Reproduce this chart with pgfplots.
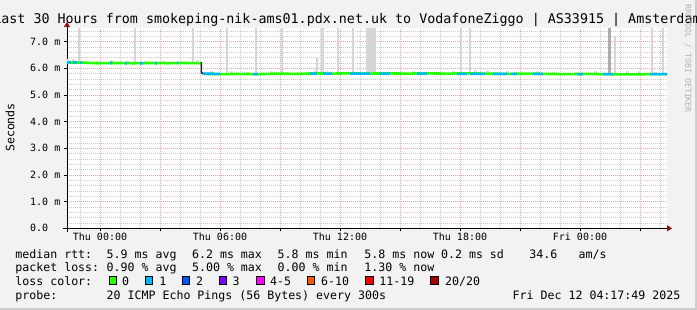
\documentclass[border=0pt]{standalone}
\usepackage{pgfplots}
\pgfplotsset{compat=1.18}
\usepackage{fontspec}
\setmainfont{DejaVu Sans Mono}
\usetikzlibrary{arrows.meta}
\definecolor{bgc}{HTML}{F2F2F2}
\definecolor{mgrid}{HTML}{F4A4A4}
\definecolor{ngrid}{HTML}{CACACA}
\definecolor{smoke}{HTML}{D6D6D6}
\definecolor{smokelt}{HTML}{E0E0E0}
\definecolor{smokedk}{HTML}{ADADAD}
\definecolor{lc0}{HTML}{26FF00}
\definecolor{lc1}{HTML}{00B8FF}
\definecolor{lc2}{HTML}{0059FF}
\definecolor{lc3}{HTML}{7E00FF}
\definecolor{lc4}{HTML}{FF00FF}
\definecolor{lc6}{HTML}{FF5500}
\definecolor{lc11}{HTML}{FF0000}
\definecolor{lc20}{HTML}{A00000}
\definecolor{arrowc}{HTML}{8B1010}
\newcommand{\tickfont}{\fontsize{10}{12}\selectfont}
\newcommand{\lgfont}{\fontsize{11.6}{14}\selectfont}
\newcommand{\lt}[3]{\node[anchor=base west, inner sep=0pt, font=\lgfont] at (#1,#2) {#3};}
\newcommand{\lbox}[2]{\filldraw[fill=#2, draw=black, line width=0.9pt] (#1,25.6) rectangle ++(7.6,7.6);}
\begin{document}
\begin{tikzpicture}[x=1pt,y=1pt]
\path[use as bounding box] (0,0) rectangle (697,310);
\clip (0,0) rectangle (697,310);
\fill[bgc] (0,0) rectangle (697,310);
\fill[gray!40] (0,0) rectangle (697,2);
\fill[gray!40] (695,0) rectangle (697,310);
\begin{axis}[
  at={(67pt,81.7pt)}, anchor=south west,
  scale only axis, width=600pt, height=200pt,
  xmin=0, xmax=30, ymin=0, ymax=7.5,
  axis x line=bottom, axis y line=left,
  axis background/.style={fill=white},
  xtick={1.65,7.65,13.65,19.65,25.65},
  xticklabels={Thu 00:00,Thu 06:00,Thu 12:00,Thu 18:00,Fri 00:00},
  extra x ticks={4.65,10.65,16.65,22.65,28.65},
  extra x tick labels={},
  extra x tick style={grid=major},
  minor xtick={0.65,2.65,3.65,5.65,6.65,8.65,9.65,11.65,12.65,14.65,15.65,17.65,18.65,20.65,21.65,23.65,24.65,26.65,27.65,29.65},
  ytick={0,1,2,3,4,5,6,7},
  yticklabels={0.0\hphantom{xm},1.0 m,2.0 m,3.0 m,4.0 m,5.0 m,6.0 m,7.0 m},
  minor ytick={0.2,0.4,0.6,0.8,1.2,1.4,1.6,1.8,2.2,2.4,2.6,2.8,3.2,3.4,3.6,3.8,4.2,4.4,4.6,4.8,5.2,5.4,5.6,5.8,6.2,6.4,6.6,6.8,7.2,7.4},
  grid=both,
  major grid style={mgrid, dash pattern=on 1pt off 1pt, line width=0.8pt},
  minor grid style={ngrid, dash pattern=on 1pt off 1pt, line width=0.8pt},
  tick align=outside, major tick length=3pt, minor tick length=0pt,
  tick style={black, line width=0.8pt},
  xticklabel style={font=\tickfont, anchor=base, inner sep=0pt, yshift=-9.4pt},
  yticklabel style={font=\tickfont, anchor=east, inner sep=0pt, xshift=-3.5pt},
  axis line style={black, line width=0.9pt},
  x axis line style={shorten <=-4.3pt, shorten >=-5pt, -{Triangle[length=5pt,width=6pt,color=arrowc]}},
  y axis line style={shorten <=-4pt, shorten >=-6.3pt, -{Triangle[length=5pt,width=6pt,color=arrowc]}},
  unbounded coords=jump,
]
% small smoke near the median
\addplot[smokelt, line width=3pt, no marks, forget plot] coordinates {
(0.1,6.15) (0.1,6.33) (0.15,nan)
(0.35,6.15) (0.35,6.36) (0.4,nan)
(1.5,6.15) (1.5,6.27) (1.55,nan)
(2.2,6.15) (2.2,6.30) (2.25,nan)
(3.0,6.15) (3.0,6.27) (3.05,nan)
(3.9,6.15) (3.9,6.28) (3.95,nan)
(4.8,6.15) (4.8,6.27) (4.85,nan)
(5.7,6.15) (5.7,6.26) (5.75,nan)
(6.5,6.15) (6.5,6.30) (6.55,nan)
(7.2,5.75) (7.2,5.90) (7.25,nan)
(8.2,5.75) (8.2,5.88) (8.25,nan)
(9.0,5.75) (9.0,5.86) (9.05,nan)
(10.2,5.75) (10.2,5.88) (10.25,nan)
(11.5,5.75) (11.5,5.86) (11.55,nan)
(12.4,5.75) (12.4,5.95) (12.45,nan)
(13.0,5.75) (13.0,5.90) (13.05,nan)
(14.8,5.75) (14.8,5.87) (14.85,nan)
(16.2,5.75) (16.2,5.86) (16.25,nan)
(17.3,5.75) (17.3,5.90) (17.35,nan)
(18.0,5.75) (18.0,5.86) (18.05,nan)
(19.3,5.75) (19.3,5.88) (19.35,nan)
(20.4,5.75) (20.4,5.95) (20.45,nan)
(21.0,5.75) (21.0,5.92) (21.05,nan)
(22.0,5.75) (22.0,5.88) (22.05,nan)
(23.5,5.75) (23.5,5.90) (23.55,nan)
(24.3,5.75) (24.3,5.87) (24.35,nan)
(25.4,5.75) (25.4,5.87) (25.45,nan)
(26.4,5.75) (26.4,5.90) (26.45,nan)
(28.0,5.75) (28.0,5.88) (28.05,nan)
(28.6,5.75) (28.6,5.90) (28.65,nan)
(29.4,5.75) (29.4,5.87) (29.45,nan)
};
% smoke spikes
\addplot[smoke, line width=2.2pt, no marks, forget plot] coordinates {
(0.6,6.2) (0.6,8) (0.65,nan)
(3.4,6.2) (3.4,8) (3.45,nan)
(6.28,6.2) (6.28,8) (6.3,nan)
(7.98,5.8) (7.98,8) (8.0,nan)
(9.43,5.8) (9.43,8) (9.45,nan)
(10.73,5.8) (10.73,8) (10.75,nan)
(12.5,5.8) (12.5,6.4) (12.55,nan)
(12.77,5.8) (12.77,8) (12.8,nan)
(13.53,5.8) (13.53,8) (13.55,nan)
(14.3,5.8) (14.3,8) (14.35,nan)
(19.7,5.8) (19.7,8) (19.75,nan)
(20.15,5.8) (20.15,8) (20.2,nan)
(27.4,5.8) (27.4,7.2) (27.45,nan)
(29.23,5.8) (29.23,8) (29.25,nan)
(29.8,5.8) (29.8,8) (29.85,nan)
};
\addplot[smoke, line width=10pt, no marks, forget plot] coordinates {(15.2,5.8) (15.2,8)};
\addplot[smokedk, line width=3pt, no marks, forget plot] coordinates {(27.1,5.8) (27.1,8)};
% median rtt, loss 0
\addplot[lc0, line width=2.6pt, no marks, forget plot] coordinates {
(0,6.22) (0.9,6.21) (1.5,6.19) (2.5,6.20) (3.3,6.19) (4.2,6.20) (5.0,6.19) (5.8,6.20) (6.72,6.19) (6.73,nan)
(6.8,5.79) (7.8,5.78) (8.6,5.79) (9.5,5.78) (10.5,5.80) (11.5,5.79) (12.3,5.81) (13.2,5.80) (14.0,5.81)
(15.0,5.80) (16.0,5.81) (17.0,5.80) (18.0,5.81) (19.0,5.80) (20.0,5.81) (21.0,5.80) (22.0,5.79)
(23.0,5.80) (24.0,5.79) (25.0,5.78) (26.0,5.79) (27.0,5.78) (28.0,5.77) (29.0,5.78) (30.0,5.78)
};
% step
\addplot[black!85, line width=1.6pt, no marks, forget plot] coordinates {(6.72,6.23) (6.72,5.84) (6.8,5.80)};
% median rtt, loss 1
\addplot[lc1, line width=2.6pt, no marks, forget plot] coordinates {
(0,6.22) (0.2,6.22) (0.21,nan)
(0.3,6.22) (0.5,6.22) (0.51,nan)
(0.65,6.21) (0.75,6.21) (0.76,nan)
(2.15,6.20) (2.25,6.20) (2.26,nan)
(2.9,6.19) (3.0,6.19) (3.01,nan)
(3.65,6.19) (3.8,6.19) (3.81,nan)
(4.4,6.19) (4.5,6.19) (4.51,nan)
(5.5,6.20) (5.55,6.20) (5.56,nan)
(6.8,5.80) (7.65,5.79) (7.66,nan)
(9.3,5.78) (9.55,5.78) (9.56,nan)
(12.15,5.80) (12.5,5.80) (12.51,nan)
(12.8,5.80) (13.25,5.80) (13.26,nan)
(14.15,5.80) (15.15,5.80) (15.16,nan)
(15.65,5.80) (16.15,5.80) (16.16,nan)
(17.5,5.80) (18.0,5.80) (18.01,nan)
(19.5,5.79) (20.0,5.79) (20.01,nan)
(20.15,5.79) (20.9,5.79) (20.91,nan)
(21.3,5.79) (22.0,5.79) (22.01,nan)
(22.2,5.79) (22.5,5.79) (22.51,nan)
(23.3,5.79) (23.8,5.79) (23.81,nan)
(25.5,5.78) (25.8,5.78) (25.81,nan)
(26.8,5.78) (27.3,5.78) (27.31,nan)
(29.15,5.78) (30.0,5.78)
};
\end{axis}
% title
\node[anchor=base, inner sep=0pt, font=\fontsize{13.35}{16}\selectfont] at (347,286) {Last 30 Hours from smokeping-nik-ams01.pdx.net.uk to VodafoneZiggo | AS33915 | Amsterdam};
% y label
\node[rotate=90, inner sep=0pt, font=\lgfont] at (10,182.5) {Seconds};
% watermark
\node[rotate=-90, anchor=west, inner sep=0pt, text=gray!60, font=\fontsize{8.2}{10}\selectfont] at (688,306) {RRDTOOL / TOBI OETIKER};
% legend
\lt{15.2}{51.7}{median rtt:}
\lt{106.5}{51.7}{5.9 ms avg}
\lt{191.9}{51.7}{6.2 ms max}
\lt{277.5}{51.7}{5.8 ms min}
\lt{364.2}{51.7}{5.8 ms now}
\lt{440.9}{51.7}{0.2 ms sd}
\lt{529.2}{51.7}{34.6}
\lt{578.5}{51.7}{am/s}
\lt{15.2}{38.2}{packet loss:}
\lt{106.5}{38.2}{0.90 \% avg}
\lt{191.9}{38.2}{5.00 \% max}
\lt{277.5}{38.2}{0.00 \% min}
\lt{364.2}{38.2}{1.30 \% now}
\lt{15.2}{24.7}{loss color:}
\lbox{109.3}{lc0}\lt{121.9}{24.7}{0}
\lbox{145.2}{lc1}\lt{159.2}{24.7}{1}
\lbox{182.3}{lc2}\lt{195.9}{24.7}{2}
\lbox{219.0}{lc3}\lt{232.5}{24.7}{3}
\lbox{256.7}{lc4}\lt{269.9}{24.7}{4-5}
\lbox{307.3}{lc6}\lt{320.9}{24.7}{6-10}
\lbox{365.5}{lc11}\lt{379.2}{24.7}{11-19}
\lbox{430.5}{lc20}\lt{444.9}{24.7}{20/20}
\lt{15.2}{10.7}{probe:}
\lt{106.5}{10.7}{20 ICMP Echo Pings (56 Bytes) every 300s}
\lt{512.5}{10.7}{Fri Dec 12 04:17:49 2025}
\end{tikzpicture}
\end{document}
